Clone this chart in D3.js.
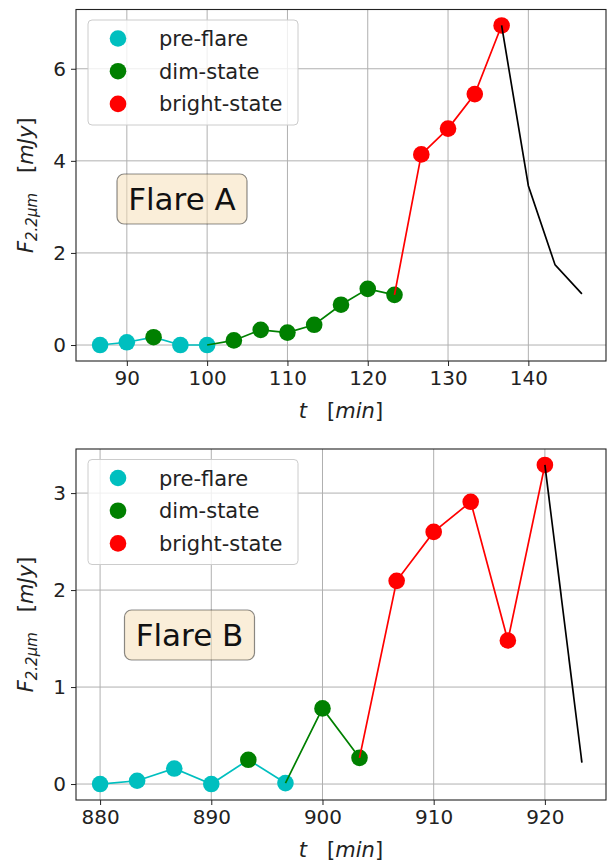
<!DOCTYPE html>
<html>
<head>
<meta charset="utf-8">
<script src="https://cdn.jsdelivr.net/npm/d3@7"></script>
<style>
  body { margin: 0; background: #fff; }
  text { font-family: "DejaVu Sans", sans-serif; }
</style>
</head>
<body>
<script>
// Flare A (top panel)
var timeA = [86.67, 90, 93.33, 96.67, 100, 103.33, 106.67, 110, 113.33, 116.67, 120, 123.33, 126.67, 130, 133.33, 136.67, 140, 143.33, 146.67];
var fluxA = [0.0, 0.06, 0.17, 0.0, 0.0, 0.10, 0.33, 0.27, 0.44, 0.875, 1.22, 1.09, 4.14, 4.70, 5.45, 6.94, 3.46, 1.74, 1.11];
var stateA = ["pre", "pre", "dim", "pre", "pre", "dim", "dim", "dim", "dim", "dim", "dim", "dim", "bright", "bright", "bright", "bright", "none", "none", "none"];
var phasesA = [[0, 4], [4, 11], [11, 15], [15, 18]];
var xTicksA = [90, 100, 110, 120, 130, 140];
var yTicksA = [0, 2, 4, 6];

// Flare B (bottom panel)
var timeB = [880, 883.33, 886.67, 890, 893.33, 896.67, 900, 903.33, 906.67, 910, 913.33, 916.67, 920, 923.33];
var fluxB = [0.0, 0.034, 0.16, 0.0, 0.25, 0.01, 0.78, 0.27, 2.095, 2.60, 2.91, 1.48, 3.29, 0.22];
var stateB = ["pre", "pre", "pre", "pre", "dim", "pre", "dim", "dim", "bright", "bright", "bright", "bright", "bright", "none"];
var phasesB = [[0, 5], [5, 7], [7, 12], [12, 13]];
var xTicksB = [880, 890, 900, 910, 920];
var yTicksB = [0, 1, 2, 3];

var phaseNames = ["pre", "dim", "bright", "none"];
var legendLabels = ["pre-flare", "dim-state", "bright-state"];
var colors = { pre: "#00bfbf", dim: "#008000", bright: "#ff0000", none: "#000000" };

var svg = d3.select("body").append("svg").attr("width", 607).attr("height", 863);

function pad(ext) {
  var r = ext[1] - ext[0];
  return [ext[0] - 0.05 * r, ext[1] + 0.05 * r];
}

function drawPanel(box, t, f, st, phases, xt, yt, title, titlePos) {
  var x = d3.scaleLinear().domain(pad(d3.extent(t))).range([box.left, box.right]);
  var y = d3.scaleLinear().domain(pad(d3.extent(f))).range([box.bottom, box.top]);
  var g = svg.append("g");

  // grid
  g.selectAll("line.gx").data(xt).enter().append("line")
    .attr("x1", function (d) { return x(d); }).attr("x2", function (d) { return x(d); })
    .attr("y1", box.top).attr("y2", box.bottom)
    .attr("stroke", "#b0b0b0").attr("stroke-width", 1);
  g.selectAll("line.gy").data(yt).enter().append("line")
    .attr("y1", function (d) { return y(d); }).attr("y2", function (d) { return y(d); })
    .attr("x1", box.left).attr("x2", box.right)
    .attr("stroke", "#b0b0b0").attr("stroke-width", 1);

  // phases: line then markers
  var line = d3.line().x(function (d) { return x(t[d]); }).y(function (d) { return y(f[d]); });
  phases.forEach(function (ph, k) {
    var idx = d3.range(ph[0], ph[1] + 1);
    var name = phaseNames[k];
    g.append("path").datum(idx).attr("d", line)
      .attr("fill", "none").attr("stroke", colors[name]).attr("stroke-width", 1.7);
    var pts = d3.range(t.length).filter(function (i) { return st[i] === name && name !== "none"; });
    g.selectAll("circle.m" + k).data(pts).enter().append("circle")
      .attr("cx", function (d) { return x(t[d]); })
      .attr("cy", function (d) { return y(f[d]); })
      .attr("r", 8.3).attr("fill", colors[name]);
  });

  // frame
  g.append("rect").attr("x", box.left).attr("y", box.top)
    .attr("width", box.right - box.left).attr("height", box.bottom - box.top)
    .attr("fill", "none").attr("stroke", "#222").attr("stroke-width", 1.1);

  // axes
  var ax = g.append("g").attr("transform", "translate(0," + box.bottom + ")")
    .call(d3.axisBottom(x).tickValues(xt).tickSize(5).tickPadding(5).tickFormat(d3.format("d")));
  var ay = g.append("g").attr("transform", "translate(" + box.left + ",0)")
    .call(d3.axisLeft(y).tickValues(yt).tickSize(5).tickPadding(5).tickFormat(d3.format("d")));
  [ax, ay].forEach(function (a) {
    a.select(".domain").remove();
    a.selectAll("line").attr("stroke", "#222").attr("stroke-width", 1);
    a.selectAll("text").attr("fill", "#222").style("font-size", "20px").style("font-family", "DejaVu Sans");
  });

  // x label
  var xl = g.append("text").attr("x", (box.left + box.right) / 2).attr("y", box.bottom + 57)
    .attr("text-anchor", "middle").style("font-size", "21px").attr("fill", "#222");
  xl.append("tspan").style("font-style", "italic").text("t");
  xl.append("tspan").attr("xml:space", "preserve").text("   [");
  xl.append("tspan").style("font-style", "italic").text("min");
  xl.append("tspan").text("]");

  // y label
  var cy = (box.top + box.bottom) / 2;
  var yl = g.append("text").attr("transform", "translate(33," + cy + ") rotate(-90)")
    .attr("text-anchor", "middle").style("font-size", "21px").attr("fill", "#222");
  yl.append("tspan").style("font-style", "italic").text("F");
  yl.append("tspan").style("font-style", "italic").style("font-size", "15px").attr("dy", 4).text("2.2\u03bcm");
  yl.append("tspan").attr("dy", -4).attr("xml:space", "preserve").text("   [");
  yl.append("tspan").style("font-style", "italic").text("mJy");
  yl.append("tspan").text("]");

  // legend
  var lg = g.append("g").attr("transform", "translate(" + (box.left + 12) + "," + (box.top + 10.5) + ")");
  lg.append("rect").attr("width", 210).attr("height", 105).attr("rx", 4)
    .attr("fill", "#fff").attr("fill-opacity", 0.8).attr("stroke", "#ccc").attr("stroke-width", 1);
  lg.selectAll("g.item").data(legendLabels).enter().append("g")
    .attr("transform", function (d, i) { return "translate(0," + (18.5 + i * 32.7) + ")"; })
    .each(function (d, i) {
      var it = d3.select(this);
      it.append("circle").attr("cx", 30).attr("cy", 0).attr("r", 8.3).attr("fill", colors[phaseNames[i]]);
      it.append("text").attr("x", 71).attr("y", 7.5).style("font-size", "21px").attr("fill", "#222").text(d);
    });

  // flare title box
  var tb = g.append("g");
  var tx = box.left + titlePos[0], ty = box.top + titlePos[1];
  var tt = tb.append("text").attr("x", tx).attr("y", ty + 11).attr("text-anchor", "middle")
    .style("font-size", "31px").attr("fill", "#111").text(title);
  var bb = tt.node().getBBox();
  tb.insert("rect", "text").attr("x", tx - 65).attr("y", ty - 25).attr("width", 130).attr("height", 50)
    .attr("rx", 7).attr("fill", "#f5deb3").attr("fill-opacity", 0.5)
    .attr("stroke", "#000").attr("stroke-opacity", 0.45).attr("stroke-width", 1.2);
}

drawPanel({ left: 76, right: 606, top: 9.5, bottom: 361 }, timeA, fluxA, stateA, phasesA, xTicksA, yTicksA, "Flare A", [106, 189.5]);
drawPanel({ left: 76, right: 606, top: 449, bottom: 800 }, timeB, fluxB, stateB, phasesB, xTicksB, yTicksB, "Flare B", [113.5, 186]);
</script>
</body>
</html>
